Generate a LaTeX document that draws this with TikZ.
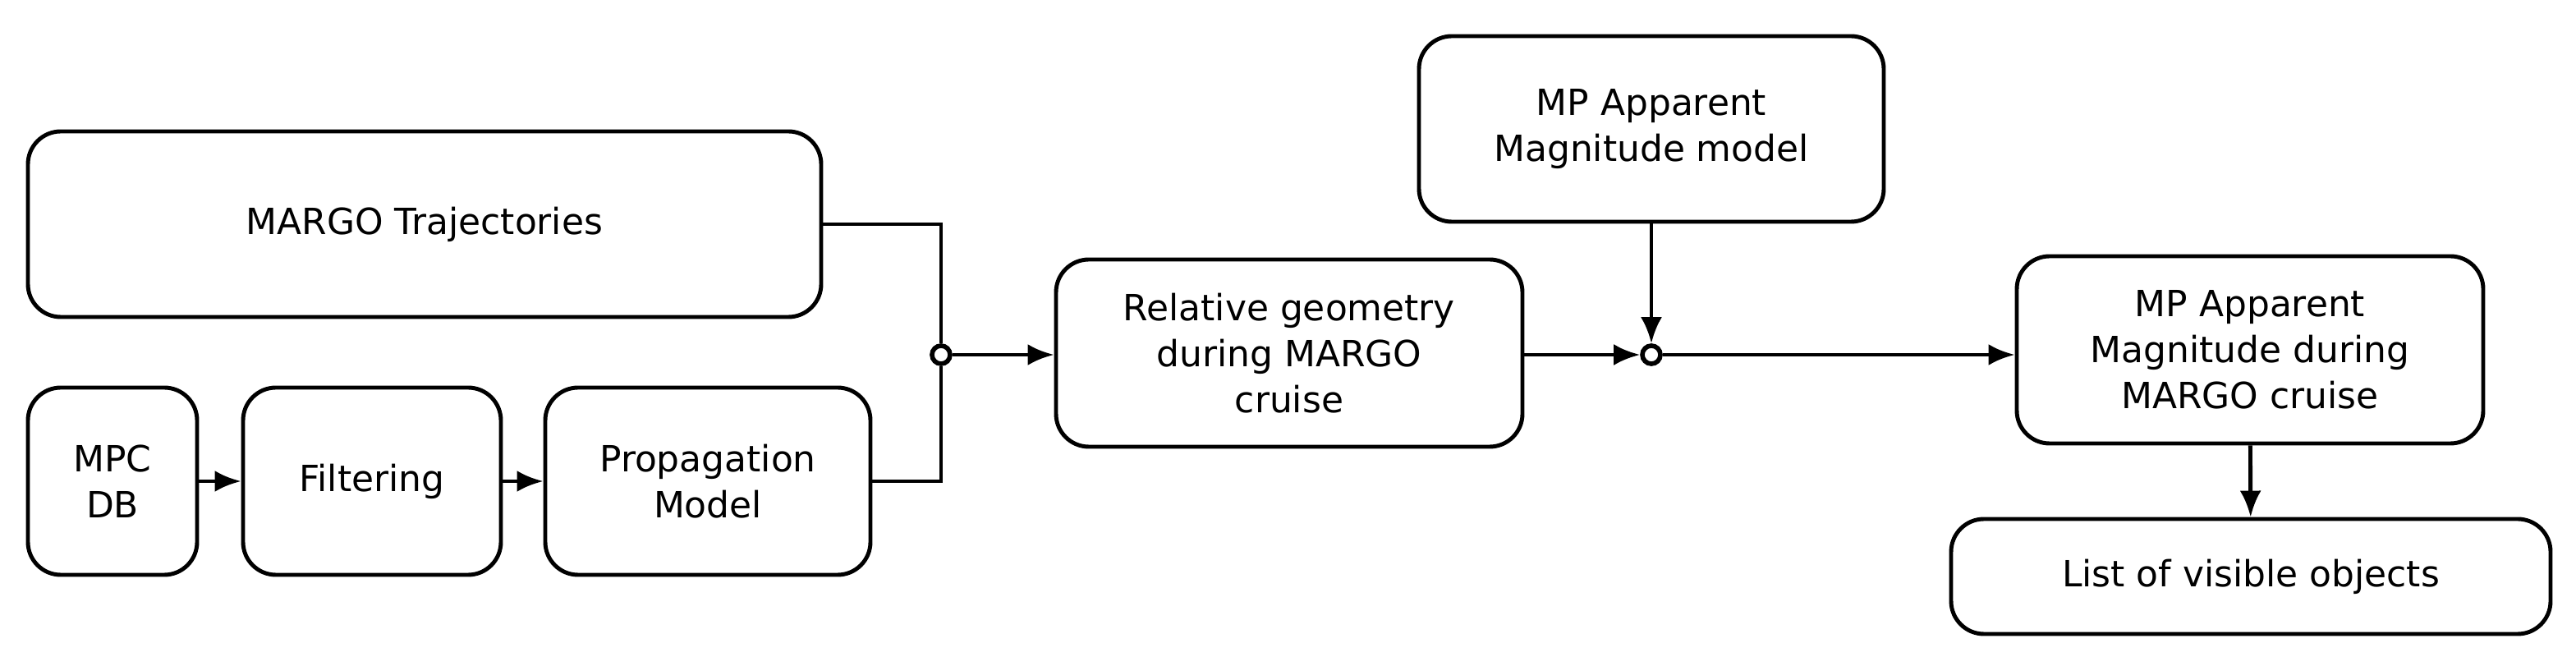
\documentclass[tikz,border=0pt]{standalone}
\usepackage{fontspec}
\setmainfont{DejaVu Sans}
\usetikzlibrary{arrows.meta}
\begin{document}
\begin{tikzpicture}[
  box/.style={draw, line width=1.4pt, rounded corners=0.4cm, align=center, inner sep=0pt, font=\fontsize{12.5}{16}\selectfont},
  ln/.style={line width=1.4pt},
  arr/.style={ln, -{Latex[length=0.32cm,width=0.26cm]}},
  junc/.style={circle, draw, line width=1.6pt, minimum size=0.22cm, inner sep=0pt, fill=white}]
\useasboundingbox (0,0) rectangle (31.37,8.11);
\node[box, minimum width=9.66cm, minimum height=2.26cm] (margo) at (5.17,5.38) {MARGO Trajectories};
\node[box, minimum width=2.06cm, minimum height=2.28cm] (mpc) at (1.37,2.25) {MPC\\DB};
\node[box, minimum width=3.14cm, minimum height=2.28cm] (filt) at (4.53,2.25) {Filtering};
\node[box, minimum width=3.96cm, minimum height=2.28cm] (prop) at (8.62,2.25) {Propagation\\Model};
\node[junc] (j1) at (11.46,3.79) {};
\node[box, minimum width=5.68cm, minimum height=2.28cm] (rel) at (15.70,3.81) {Relative geometry\\during MARGO\\cruise};
\node[box, minimum width=5.66cm, minimum height=2.26cm] (mpm) at (20.11,6.54) {MP Apparent\\Magnitude model};
\node[junc] (j2) at (20.11,3.79) {};
\node[box, minimum width=5.68cm, minimum height=2.28cm] (mpd) at (27.40,3.85) {MP Apparent\\Magnitude during\\MARGO cruise};
\node[box, minimum width=7.30cm, minimum height=1.40cm] (list) at (27.41,1.09) {List of visible objects};
\draw[arr] (mpc) -- (filt);
\draw[arr] (filt) -- (prop);
\draw[ln] (margo.east) -| (j1.north);
\draw[ln] (prop.east) -| (j1.south);
\draw[arr] (j1) -- (j1 -| rel.west);
\draw[arr] (rel.east |- j2) -- (j2);
\draw[arr] (mpm) -- (j2);
\draw[arr] (j2) -- (j2 -| mpd.west);
\draw[arr] (mpd) -- (list);
\end{tikzpicture}
\end{document}
